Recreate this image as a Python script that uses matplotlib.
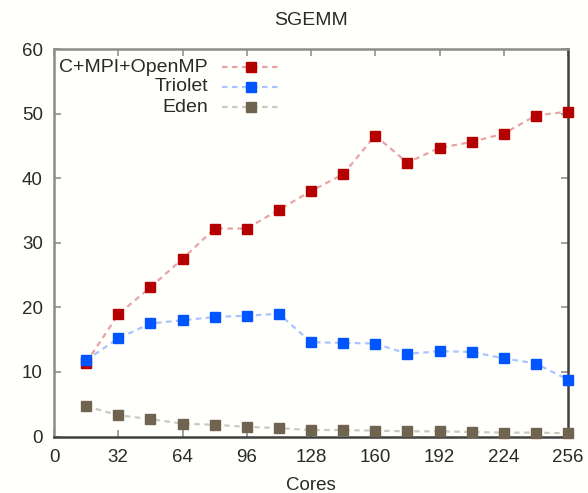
import matplotlib
matplotlib.use("Agg")
import matplotlib.pyplot as plt

cores = [16, 32, 48, 64, 80, 96, 112, 128, 144, 160, 176, 192, 208, 224, 240, 256]
mpi = [11.4, 18.9, 23.1, 27.5, 32.2, 32.2, 35.1, 38.0, 40.6, 46.6, 42.4, 44.7, 45.6, 46.9, 49.7, 50.3]
triolet = [11.8, 15.2, 17.5, 18.0, 18.5, 18.7, 19.0, 14.6, 14.5, 14.4, 12.8, 13.2, 13.1, 12.1, 11.3, 8.8]
eden = [4.7, 3.3, 2.7, 2.0, 1.8, 1.5, 1.3, 1.0, 1.0, 0.9, 0.8, 0.8, 0.7, 0.6, 0.6, 0.5]
labels = ["C+MPI+OpenMP", "Triolet", "Eden"]
xticks = [0, 32, 64, 96, 128, 160, 192, 224, 256]
yticks = [0, 10, 20, 30, 40, 50, 60]

marker_colors = ["#b40000", "#0055ff", "#6e6450"]
line_colors = ["#e8a4a4", "#a8c4ff", "#cdc9c0"]

plt.rcParams['font.family'] = ['Liberation Sans', 'DejaVu Sans']
txtc = "#2a2a2a"

fig = plt.figure(figsize=(5.88, 4.93), dpi=100)
fig.patch.set_facecolor("#fffffb")
ax = fig.add_axes([54/588, 1-436.5/493, 514/588, 387.5/493])
ax.set_facecolor("#fffffb")

for ys, mc, lc, lab in zip([mpi, triolet, eden], marker_colors, line_colors, labels):
    ax.plot(cores, ys, linestyle=(0, (2.5, 2)), color=lc, linewidth=1.6, zorder=2, clip_on=False)
    ax.plot(cores, ys, linestyle='none', marker='s', markersize=7, markerfacecolor=mc,
            markeredgecolor=mc, zorder=3, clip_on=False)

# legend (right-aligned labels, sample to the right)
rows_y = [0.9535, 0.902, 0.850]
for ry, mc, lc, lab in zip(rows_y, marker_colors, line_colors, labels):
    ax.text(0.2996, ry, lab, transform=ax.transAxes, ha='right', va='center',
            fontsize=14, color=txtc)
    ax.plot([0.327, 0.436], [ry, ry], transform=ax.transAxes, linestyle=(0, (2.5, 2)),
            color=lc, linewidth=1.6, zorder=2)
    ax.plot([0.383], [ry], transform=ax.transAxes, linestyle='none', marker='s',
            markersize=7, markerfacecolor=mc, markeredgecolor=mc, zorder=3)

ax.set_xlim(0, 256)
ax.set_ylim(0, 60)
ax.set_xticks(xticks)
ax.set_yticks(yticks)
ax.tick_params(direction='in', length=5, width=1.2, color="#909090",
               top=True, right=True, labelsize=13.5, labelcolor=txtc)
ax.tick_params(axis='x', pad=9)
ax.tick_params(axis='y', pad=8)

for side in ['left', 'top']:
    ax.spines[side].set_color("#8c8c8c")
    ax.spines[side].set_linewidth(1.8)
for side in ['right', 'bottom']:
    ax.spines[side].set_color("#404040")
    ax.spines[side].set_linewidth(1.8)

ax.set_title("SGEMM", fontsize=14, color=txtc, pad=17)
ax.set_xlabel("Cores", fontsize=13.5, color=txtc, labelpad=8)

fig.savefig("out.png", dpi=100, facecolor=fig.get_facecolor())
